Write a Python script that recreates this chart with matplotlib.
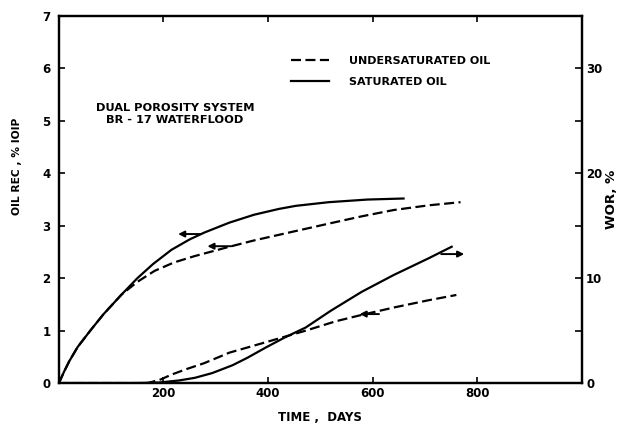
# Dual porosity system, BR-17 waterflood: oil recovery and WOR vs time

import numpy as np
import matplotlib
matplotlib.use("Agg")
import matplotlib.pyplot as plt

# --- Data ---
sat_rec_days = [0, 10, 20, 36, 60, 85, 120, 150, 180, 215, 250, 278, 326, 373, 420, 453, 516, 590, 659]
sat_rec = [0, 0.22, 0.42, 0.69, 1.0, 1.31, 1.69, 2.0, 2.27, 2.54, 2.74, 2.87, 3.06, 3.21, 3.32, 3.38, 3.45, 3.50, 3.52]

unsat_rec_days = [0, 10, 20, 36, 60, 85, 120, 150, 183, 220, 259, 326, 373, 453, 520, 579, 640, 707, 768]
unsat_rec = [0, 0.22, 0.42, 0.69, 1.0, 1.31, 1.69, 1.93, 2.14, 2.30, 2.42, 2.60, 2.72, 2.90, 3.05, 3.18, 3.30, 3.39, 3.45]

sat_wor_days = [0, 150, 192, 230, 260, 293, 332, 360, 396, 430, 472, 520, 579, 640, 707, 751]
sat_wor = [0, 0, 0.05, 0.25, 0.5, 0.95, 1.7, 2.4, 3.4, 4.3, 5.3, 6.9, 8.7, 10.3, 11.9, 13.0]

unsat_wor_days = [0, 170, 195, 215, 245, 278, 326, 396, 472, 530, 579, 640, 707, 760]
unsat_wor = [0, 0, 0.35, 0.8, 1.35, 1.9, 2.9, 3.9, 5.0, 5.9, 6.5, 7.2, 7.9, 8.4]

x_ticks = [200, 400, 600, 800]
rec_ticks = [0, 1, 2, 3, 4, 5, 6, 7]
wor_ticks = [0, 10, 20, 30]
wor_minor = [5, 15, 25]

# --- Plot ---
plt.rcParams["font.family"] = "DejaVu Sans"
fig = plt.figure(figsize=(6.2, 4.28), dpi=100)
ax = fig.add_axes([0.095, 0.105, 0.8435, 0.8575])
ax2 = ax.twinx()

dash = (0, (4.5, 2))
lw = 1.6
ax.plot(sat_rec_days, sat_rec, color="black", lw=lw, label="SATURATED OIL")
ax.plot(unsat_rec_days, unsat_rec, color="black", lw=lw, linestyle=dash, label="UNDERSATURATED OIL")
ax2.plot(sat_wor_days, sat_wor, color="black", lw=lw)
ax2.plot(unsat_wor_days, unsat_wor, color="black", lw=lw, linestyle=dash)

ax.set_xlim(0, 1000)
ax.set_ylim(0, 7)
ax2.set_ylim(0, 35)

ax.set_xticks(x_ticks)
ax.set_yticks(rec_ticks)
ax2.set_yticks(wor_ticks)
ax2.set_yticks(wor_minor, minor=True)

for lab in ax.get_xticklabels() + ax.get_yticklabels() + ax2.get_yticklabels():
    lab.set_fontsize(8.5)
    lab.set_fontweight("bold")

ax.tick_params(axis="both", direction="in", length=4, width=1.2, top=True, pad=3)
ax.tick_params(axis="y", pad=6)
ax2.tick_params(axis="y", which="both", direction="in", length=5, width=1.2, pad=3)

for a in (ax, ax2):
    for s in a.spines.values():
        s.set_linewidth(1.6)

ax.set_xlabel("TIME ,  DAYS", fontsize=8.5, fontweight="bold", labelpad=8)
ax.set_ylabel("OIL REC , % IOIP", fontsize=7.7, fontweight="bold")
ax.yaxis.set_label_coords(-0.07, 0.59)
ax2.set_ylabel("WOR, %", fontsize=9.5, fontweight="bold", labelpad=2)

ax.text(0.222, 0.733, "DUAL POROSITY SYSTEM\nBR - 17 WATERFLOOD", transform=ax.transAxes,
        ha="center", va="center", fontsize=8.2, fontweight="bold", linespacing=1.35)

# legend: dashed first, solid below
h, l = ax.get_legend_handles_labels()
ax.legend([h[1], h[0]], [l[1], l[0]], loc="upper left", bbox_to_anchor=(0.425, 0.918),
          frameon=False, handlelength=3.4, handletextpad=1.8, labelspacing=0.95,
          prop=dict(size=8, weight="bold"))

# direction arrows (pointing to the axis each curve belongs to)
arrow = dict(arrowstyle="-|>", color="black", lw=1.4, mutation_scale=9, shrinkA=0, shrinkB=0)
y = np.interp(272, sat_rec_days, sat_rec)
ax.annotate("", xy=(228, y), xytext=(272, y), arrowprops=arrow)
y = np.interp(330, unsat_rec_days, unsat_rec)
ax.annotate("", xy=(284, y), xytext=(330, y), arrowprops=arrow)
y = np.interp(612, unsat_wor_days, unsat_wor)
ax2.annotate("", xy=(575, y - 0.3), xytext=(612, y - 0.3), arrowprops=arrow)
y = np.interp(731, sat_wor_days, sat_wor)
ax2.annotate("", xy=(775, y - 0.2), xytext=(731, y - 0.2), arrowprops=arrow)

fig.savefig("out.png", dpi=100)
